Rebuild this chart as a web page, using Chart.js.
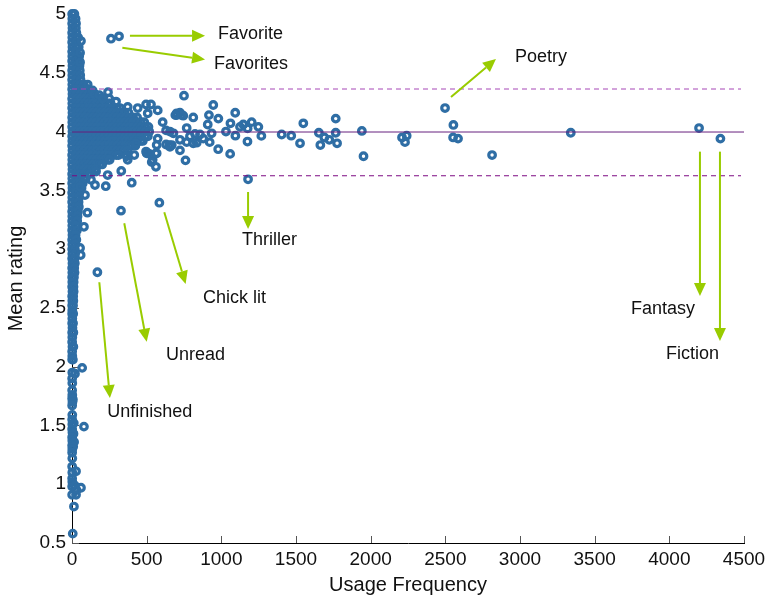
<!DOCTYPE html>
<html>
<head>
<meta charset="utf-8">
<script src="https://cdn.jsdelivr.net/npm/chart.js@4.4.0/dist/chart.umd.min.js"></script>
<style>
  html, body { margin: 0; padding: 0; background: #fff; }
  #wrap { width: 767px; height: 600px; }
</style>
</head>
<body>
<div id="wrap"><canvas id="chart" width="767" height="600"></canvas></div>
<script>
// ---- axis ticks ----
const ratingTicks = [0.5, 1, 1.5, 2, 2.5, 3, 3.5, 4, 4.5, 5];
const freqTicks = [0, 500, 1000, 1500, 2000, 2500, 3000, 3500, 4000, 4500];

// ---- reference levels (mean rating and the band around it) ----
const meanRating = 3.996;
const upperRating = 4.362;
const lowerRating = 3.624;

// ---- tags that carry a callout ----
const namedTags   = ['Favorite', 'Favorites', 'Poetry', 'Thriller', 'Chick lit', 'Unread', 'Unfinished', 'Fantasy', 'Fiction'];
const namedFreq   = [315, 261, 2498, 1179, 585, 328, 170, 4199, 4342];
const namedRating = [4.81, 4.79, 4.20, 3.594, 3.395, 3.327, 2.803, 4.03, 3.94];

// ---- tags spread away from the crowded low-usage region: [usage, mean rating] ----
const spreadTags = [
  [2210,3.95],[2241,3.965],[2230,3.91],[2554,4.056],[2552,3.95],[2585,3.94],[2813,3.80],[3340,3.99],
  [1404,3.975],[1468,3.965],[1549,4.07],[1527,3.90],[1653,3.99],[1690,3.95],[1723,3.93],[1663,3.885],
  [1766,4.11],[1766,3.99],[1775,3.90],[1941,4.005],[1952,3.79],
  [750,4.305],[946,4.226],[701,4.14],[723,4.16],[745,4.135],[812,4.12],[917,4.14],[980,4.11],[1093,4.16],
  [1061,4.07],[1125,4.04],[1147,4.06],[1203,4.08],[1248,4.04],[1176,4.027],[1031,4.00],[1094,3.965],
  [1268,3.963],[1175,3.915],[979,3.85],[1059,3.81],[760,3.755],[922,3.91],[935,3.985],[835,3.905],
  [909,4.06],[857,3.975],[824,3.98],[768,4.03],[679,3.985],[723,3.93],[723,3.84],[668,3.885],[768,3.91],
  [879,3.94],[790,3.96],[656,4.0],[701,4.155],[734,4.14],[812,3.90],[656,3.87],[630,3.89],
  [105,4.40],[138,4.35],[147,4.32],[183,4.31],[241,4.335],[295,4.255],[250,4.28],[205,4.28],[373,4.21],
  [440,4.20],[496,4.23],[529,4.23],[574,4.18],[692,4.14],[507,4.155],[607,4.08],[630,4.01],[574,3.94],
  [652,3.885],[562,3.815],[540,3.76],[518,3.81],[417,3.80],[373,3.76],[330,3.665],[366,3.79],[500,3.815],
  [567,3.815],[534,3.74],[567,3.885],[429,3.90],[496,3.83],[562,3.70],[239,3.63],[161,3.66],[127,3.59],
  [400,3.565],[226,3.535],[154,3.545],[54,3.53],[87,3.46],[103,3.31],[80,3.19],[54,3.01],[58,2.95],
  [60,4.77],[54,4.67],[54,4.59],[68,1.99],[80,1.49],[60,0.97]
];

// ---- crowded low-usage tags, grouped by rating band ----
const bandRatings = [
  5.00,4.96,4.92,4.88,4.84,4.80,4.76,4.72,4.68,4.64,4.60,4.56,4.52,4.48,4.44,
  4.40,4.36,4.32,4.28,4.24,4.20,4.16,4.12,4.08,4.04,4.00,3.96,3.92,3.88,3.84,
  3.80,3.76,3.72,3.68,3.64,3.60,3.56,3.52,3.48,3.44,3.40,3.36,3.32,3.28,3.24,
  3.20,3.16,3.12,3.08,3.04,3.00,2.96,2.92,2.88,2.84,2.80,2.76,2.72,2.68,2.64,
  2.60,2.56,2.52,2.48,2.45,2.41,2.37,2.33,2.29,2.25,2.21,2.17,2.13,2.09,2.06
];
const bandFreqs = [
  [1,16],[2,24],[1,27],[3,26],[1,29],[2,28,41],[1,27],[3,29,45],[1,26],[2,30,48],
  [1,27,46],[3,29,50],[1,28,52],[2,30,55],[1,29,57],
  [2,27,55,79],
  [1,30,58,84,112],
  [3,27,54,81,109,134,152],
  [1,29,56,83,111,138,163,189,204],
  [2,28,55,84,110,136,164,192,217,243,259],
  [1,30,57,85,112,139,165,194,220,246,273,301,322],
  [3,28,54,82,109,137,164,190,218,245,271,299,327,352,378],
  [1,29,56,84,111,138,166,192,219,247,273,301,328,354,381,409,436],
  [2,27,55,82,110,136,163,191,219,245,272,300,326,355,382,408,435,461,484],
  [1,30,57,84,111,139,166,193,220,248,274,302,329,356,383,411,437,464,490,512],
  [3,28,55,83,110,137,164,192,218,246,273,299,327,355,381,409,436,463,491,517],
  [1,29,56,82,111,138,165,191,219,247,274,300,328,354,382,410,437,463,489,508],
  [2,27,55,84,110,136,164,192,219,245,273,301,327,355,381,408,436,460,474],
  [1,30,57,83,111,138,165,191,220,247,274,300,329,355,382,404,424],
  [3,28,54,82,110,137,163,192,218,246,272,300,326,351,372],
  [1,29,56,84,111,138,165,191,219,246,273,296,312],
  [2,27,55,82,109,137,164,192,218,240,252],
  [1,30,57,83,111,138,164,186,202],
  [3,28,55,82,109,134,158],
  [1,29,56,84,106,122],
  [2,27,54,78,92],
  [1,30,55,72],
  [3,27,51,64],
  [1,26,49],[2,28,47],[1,25,44],[3,27,46],[1,24,40],[2,26,37],[1,23,35],
  [2,25],[1,22,33],[3,24],[1,21,29],[2,22],[1,19],[2,21],[1,17],[3,19],[1,15],
  [2,17],[1,13],[2,11],[1,10],[3,11],[1,8],[2,9],[1,7],[2],[1,8],[2],[1,7],[3],
  [1,9],[2],[1],[3,9],[1],[2],[1,6]
];

// ---- sparse low-usage tags with low ratings: [usage, mean rating] ----
const lowTags = [
  [2,1.95],[20,1.94],[1,1.90],[2,1.86],[1,1.80],[2,1.76],[1,1.73],[6,1.72],[3,1.70],[1,1.67],
  [2,1.59],[1,1.55],[2,1.51],[12,1.52],[1,1.47],[3,1.44],[10,1.43],[1,1.40],[2,1.37],[14,1.36],
  [1,1.33],[8,1.32],[2,1.30],[1,1.27],[2,1.22],[1,1.15],[2,1.10],[27,1.11],[1,1.05],[2,1.02],
  [1,0.98],[18,0.99],[31,0.95],[1,0.91],[27,0.91],[13,0.81],[5,0.58]
];

// ---- build the point table ----
const points = [];
bandRatings.forEach((r, i) => bandFreqs[i].forEach(f => points.push({ x: f, y: r })));
lowTags.forEach(([f, r]) => points.push({ x: f, y: r }));
spreadTags.forEach(([f, r]) => points.push({ x: f, y: r }));
namedFreq.forEach((f, i) => points.push({ x: f, y: namedRating[i] }));

// ---- callout arrows and their labels (data coordinates) ----
const callouts = [
  { text: 'Favorite',   from: [388, 4.815],  to: [891, 4.815],  at: [978, 4.832] },
  { text: 'Favorites',  from: [337, 4.713],  to: [891, 4.613],  at: [951, 4.577] },
  { text: 'Poetry',     from: [2538, 4.294], to: [2839, 4.617], at: [2967, 4.637] },
  { text: 'Thriller',   from: [1179, 3.486], to: [1179, 3.171], at: [1138, 3.073] },
  { text: 'Chick lit',  from: [618, 3.313],  to: [761, 2.703],  at: [877, 2.584] },
  { text: 'Unread',     from: [350, 3.220],  to: [500, 2.212],  at: [629, 2.099] },
  { text: 'Unfinished', from: [183, 2.718],  to: [254, 1.733],  at: [236, 1.617] },
  { text: 'Fantasy',    from: [4205, 3.829], to: [4205, 2.601], at: [3743, 2.491] },
  { text: 'Fiction',    from: [4339, 3.829], to: [4339, 2.218], at: [3978, 2.108] }
];

const FONT = "'Liberation Sans', Arial, Helvetica, sans-serif";
const arrowColor = '#99cc00';
const markerColor = '#2f6ea5';

// inward tick marks on both axes
const innerTicks = {
  id: 'innerTicks',
  beforeDatasetsDraw(chart) {
    const { ctx, chartArea: a, scales: { x, y } } = chart;
    ctx.save();
    ctx.strokeStyle = '#555';
    ctx.lineWidth = 1;
    ctx.beginPath();
    freqTicks.forEach(v => {
      const px = Math.round(x.getPixelForValue(v)) + 0.5;
      ctx.moveTo(px, a.bottom);
      ctx.lineTo(px, a.bottom - 7);
    });
    ratingTicks.forEach(v => {
      const py = Math.round(y.getPixelForValue(v)) + 0.5;
      ctx.moveTo(a.left, py);
      ctx.lineTo(a.left + 7, py);
    });
    ctx.stroke();
    ctx.restore();
  }
};

// green arrows with text labels
const calloutLayer = {
  id: 'calloutLayer',
  afterDatasetsDraw(chart) {
    const { ctx, scales: { x, y } } = chart;
    ctx.save();
    ctx.strokeStyle = arrowColor;
    ctx.fillStyle = arrowColor;
    ctx.lineWidth = 2;
    callouts.forEach(c => {
      const x0 = x.getPixelForValue(c.from[0]), y0 = y.getPixelForValue(c.from[1]);
      const x1 = x.getPixelForValue(c.to[0]),   y1 = y.getPixelForValue(c.to[1]);
      const ang = Math.atan2(y1 - y0, x1 - x0);
      const len = 13, half = 6;
      const bx = x1 - len * Math.cos(ang), by = y1 - len * Math.sin(ang);
      ctx.beginPath();
      ctx.moveTo(x0, y0);
      ctx.lineTo(bx, by);
      ctx.stroke();
      ctx.beginPath();
      ctx.moveTo(x1, y1);
      ctx.lineTo(bx + half * Math.sin(ang), by - half * Math.cos(ang));
      ctx.lineTo(bx - half * Math.sin(ang), by + half * Math.cos(ang));
      ctx.closePath();
      ctx.fill();
    });
    ctx.fillStyle = '#111';
    ctx.font = '18px ' + FONT;
    ctx.textAlign = 'left';
    ctx.textBaseline = 'middle';
    callouts.forEach(c => {
      ctx.fillText(c.text, x.getPixelForValue(c.at[0]), y.getPixelForValue(c.at[1]));
    });
    ctx.restore();
  }
};

const guide = (val, dash, end, color) => ({
  type: 'line',
  data: [{ x: 0, y: val }, { x: end, y: val }],
  borderColor: color,
  borderWidth: 1,
  borderDash: dash,
  pointRadius: 0,
  fill: false,
  order: 0
});

new Chart(document.getElementById('chart'), {
  type: 'scatter',
  data: {
    datasets: [
      {
        data: points,
        borderColor: markerColor,
        backgroundColor: 'rgba(0,0,0,0)',
        pointRadius: 3.3,
        pointBorderWidth: 3.2,
        clip: false,
        order: 1
      },
      guide(meanRating, [], 4500, '#67207e'),
      guide(upperRating, [5, 4], 4480, '#a646b6'),
      guide(lowerRating, [5, 4], 4480, '#7c0a82')
    ]
  },
  options: {
    responsive: false,
    animation: false,
    devicePixelRatio: 1,
    events: [],
    layout: { padding: { top: 14, right: 23, left: 0, bottom: 0 } },
    plugins: { legend: { display: false }, tooltip: { enabled: false } },
    scales: {
      x: {
        type: 'linear',
        min: 0,
        max: 4500,
        afterBuildTicks: s => { s.ticks = freqTicks.map(v => ({ value: v })); },
        afterFit: s => { s.height = 57; s.paddingLeft = 0; s.paddingRight = 0; },
        ticks: { font: { size: 19, family: FONT }, color: '#111', padding: 5, maxRotation: 0, autoSkip: false,
                 callback: v => String(v) },
        grid: { display: false, drawTicks: false },
        border: { display: true, color: '#000', width: 1 },
        title: { display: true, text: 'Usage Frequency', color: '#111',
                 font: { size: 20, family: FONT }, padding: { top: 0, bottom: 3 } }
      },
      y: {
        type: 'linear',
        min: 0.5,
        max: 5,
        afterBuildTicks: s => { s.ticks = ratingTicks.map(v => ({ value: v })); },
        afterFit: s => { s.width = 72; s.paddingTop = 0; s.paddingBottom = 0; },
        ticks: { font: { size: 19, family: FONT }, color: '#111', padding: 6,
                 callback: v => String(v) },
        grid: { display: false, drawTicks: false },
        border: { display: true, color: '#000', width: 1 },
        title: { display: true, text: 'Mean rating', color: '#111',
                 font: { size: 20, family: FONT }, padding: { top: 4, bottom: 0 } }
      }
    }
  },
  plugins: [innerTicks, calloutLayer]
});
</script>
</body>
</html>
